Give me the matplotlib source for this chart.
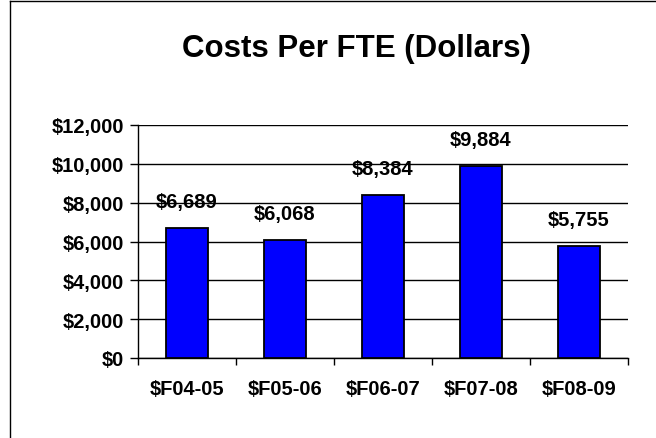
import matplotlib.pyplot as plt
import numpy as np
from matplotlib.lines import Line2D

plt.rcParams['font.family'] = ['Liberation Sans', 'DejaVu Sans']
plt.rcParams['font.weight'] = 'bold'

categories = ['$F04-05', '$F05-06', '$F06-07', '$F07-08', '$F08-09']
costs = [6689, 6068, 8384, 9884, 5755]
yticks = [0, 2000, 4000, 6000, 8000, 10000, 12000]

fs = 14.5

fig = plt.figure(figsize=(6.56, 4.39), dpi=100)
ax = fig.add_axes([138/656, 1 - 359/439, (628-138)/656, (359-126)/439])

x = np.arange(len(categories))
ax.bar(x, costs, width=0.42, color='#0000FF', edgecolor='black', linewidth=1.3, zorder=3)

for xi, v in zip(x, costs):
    ax.annotate(f'${v:,}', (xi, v), xytext=(0, 19), textcoords='offset points',
                ha='center', va='center', fontsize=fs, fontweight='bold', zorder=4)

ax.set_xlim(-0.5, len(categories) - 0.5)
ax.set_ylim(0, 12000)
ax.set_yticks(yticks)
ax.set_yticklabels([f'${t:,}' for t in yticks], fontsize=fs, fontweight='bold')
ax.set_xticks(x)
ax.set_xticklabels(categories, fontsize=fs, fontweight='bold')
ax.tick_params(axis='x', length=0, pad=15)
ax.set_xticks(np.arange(len(categories) + 1) - 0.5, minor=True)
ax.tick_params(axis='x', which='minor', length=5, width=1, direction='out')
ax.tick_params(axis='y', length=6, width=1, direction='out', pad=4)

ax.grid(axis='y', color='black', linewidth=1, zorder=1)
ax.set_axisbelow(True)
for s in ['top', 'right']:
    ax.spines[s].set_visible(False)
ax.spines['left'].set_linewidth(1)
ax.spines['bottom'].set_linewidth(1)

# chart title, centred on the full (cropped) chart area
fig.text(356/656, 1 - 49/439, 'Costs Per FTE (Dollars)', ha='center', va='center',
         fontsize=22.5, fontweight='bold')

# chart frame: only left and top edges are inside the picture
fig.lines.append(Line2D([10/656, 10/656], [0, 1 - 2/439], transform=fig.transFigure,
                        color='black', linewidth=1))
fig.lines.append(Line2D([10/656, 1], [1 - 2/439, 1 - 2/439], transform=fig.transFigure,
                        color='black', linewidth=1))

fig.savefig('out.png', dpi=100)
